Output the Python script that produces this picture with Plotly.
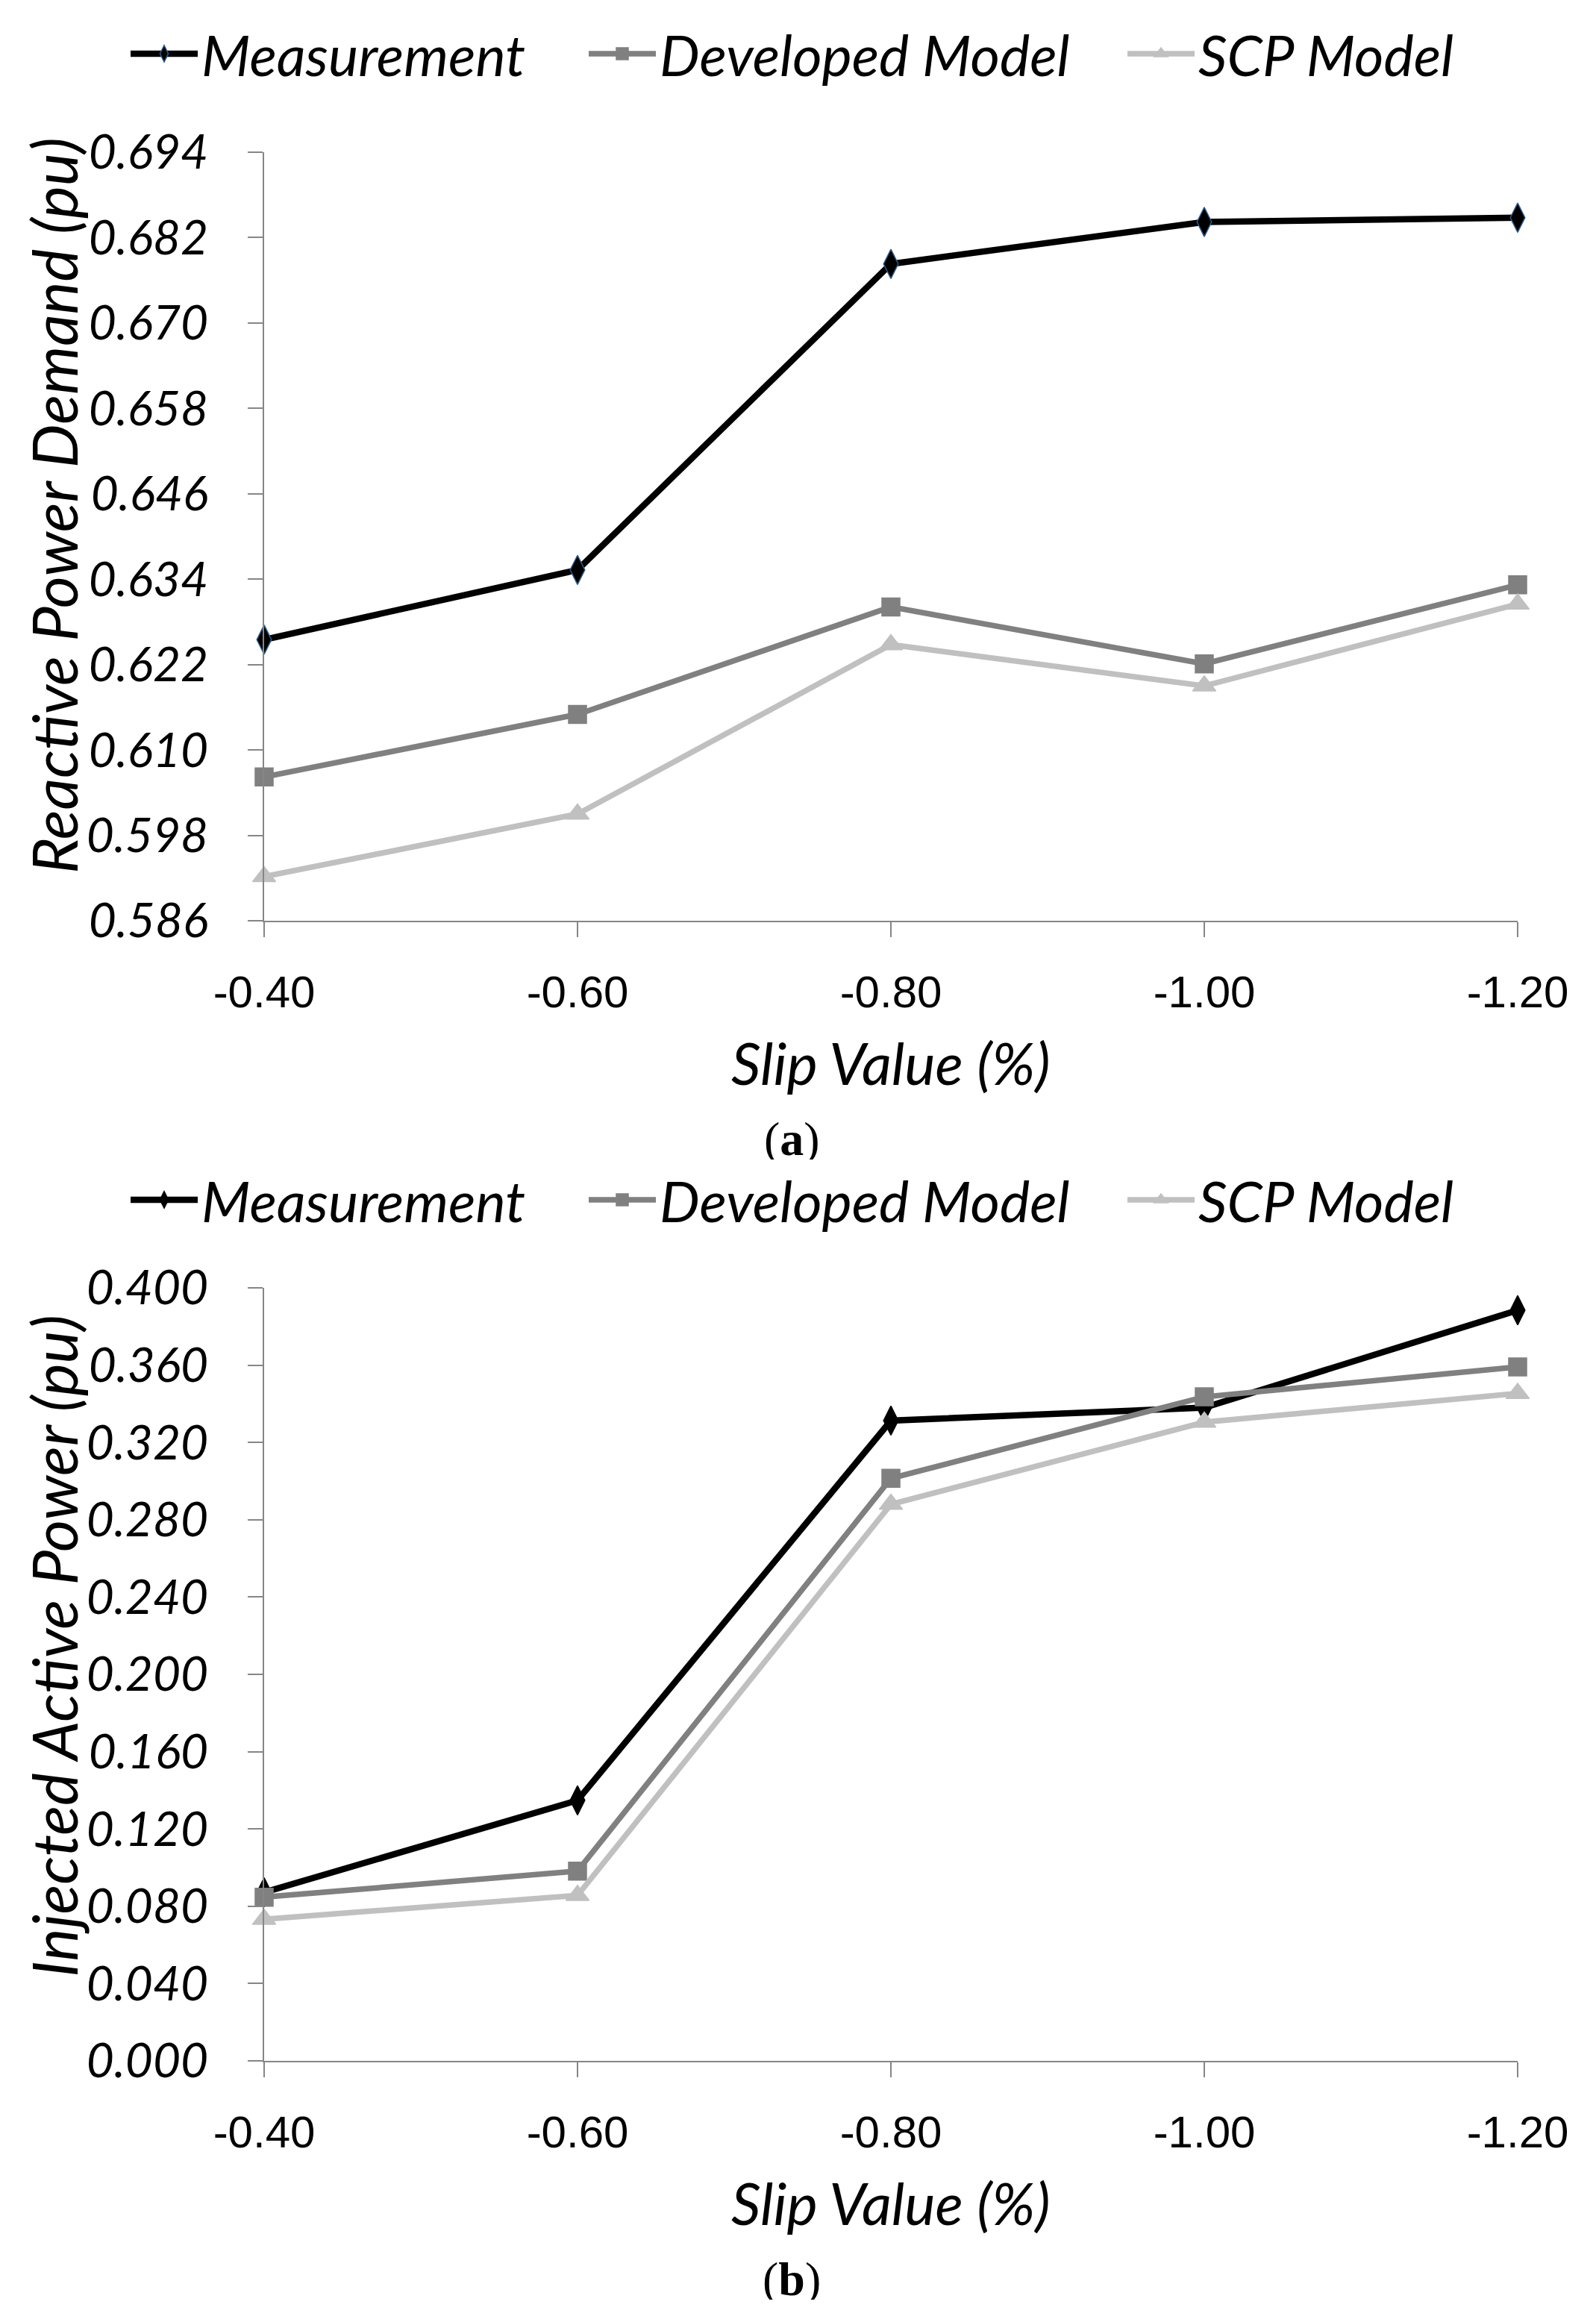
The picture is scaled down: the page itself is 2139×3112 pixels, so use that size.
import plotly.graph_objects as go

W, H = 2139, 3112

slip = ["-0.40", "-0.60", "-0.80", "-1.00", "-1.20"]

# (a) Reactive power demand (pu)
q_meas = [0.6255, 0.6353, 0.6783, 0.6842, 0.6848]
q_dev = [0.6062, 0.6150, 0.6301, 0.6221, 0.6332]
q_scp = [0.5922, 0.6010, 0.6248, 0.6190, 0.6305]

# (b) Injected active power (pu)
p_meas = [0.0872, 0.1348, 0.3313, 0.3380, 0.3884]
p_dev = [0.0847, 0.0982, 0.3014, 0.3436, 0.3591]
p_scp = [0.0733, 0.0856, 0.2880, 0.3305, 0.3454]

series_names = ["Measurement", "Developed Model", "SCP Model"]

FONT = "Lato"
AXC = "#868686"


def px(v):
    return v / W


def py(v):
    return 1 - v / H


fig = go.Figure()

styles = [
    dict(color="#000000", width=8.5, symbol="diamond-tall", size=28, mline="#2F5A8A"),
    dict(color="#808080", width=7.5, symbol="square", size=24, mline="#808080"),
    dict(color="#C0C0C0", width=7.5, symbol="triangle-up", size=27, mline="#C0C0C0"),
]

top_data = [q_meas, q_dev, q_scp]
bot_data = [p_meas, p_dev, p_scp]

for i, (name, ys) in enumerate(zip(series_names, top_data)):
    s = styles[i]
    fig.add_trace(go.Scatter(
        x=slip, y=ys, name=name, mode="lines+markers",
        line=dict(color=s["color"], width=s["width"]),
        marker=dict(symbol=s["symbol"], size=s["size"], color=s["color"],
                    line=dict(color=s["mline"], width=1.5)),
        cliponaxis=False, xaxis="x", yaxis="y",
        legend="legend" if i == 0 else f"legend{i+1}",
    ))

for i, (name, ys) in enumerate(zip(series_names, bot_data)):
    s = styles[i]
    fig.add_trace(go.Scatter(
        x=slip, y=ys, name=name, mode="lines+markers",
        line=dict(color=s["color"], width=s["width"]),
        marker=dict(symbol=s["symbol"], size=s["size"], color=s["color"],
                    line=dict(color=s["color"], width=1.5)),
        cliponaxis=False, xaxis="x2", yaxis="y2",
        legend=f"legend{i+4}",
    ))

xdom = [px(354), px(2034)]
common_x = dict(
    type="category", range=[0, 4], domain=xdom, automargin=False,
    showline=True, linecolor=AXC, linewidth=2,
    ticks="outside", ticklen=20, tickcolor=AXC, tickwidth=2,
    showgrid=False, zeroline=False,
    tickfont=dict(family="Liberation Sans", size=60, color="#000000"),
    ticklabelstandoff=22,
)
common_y = dict(
    showline=True, linecolor=AXC, linewidth=2, automargin=False,
    ticks="outside", ticklen=20, tickcolor=AXC, tickwidth=2,
    showgrid=False, zeroline=False,
    tickfont=dict(family=FONT, size=64, color="#000000", style="italic"),
    ticklabelstandoff=40,
)

fig.update_layout(
    width=W, height=H,
    margin=dict(l=0, r=0, t=0, b=0, autoexpand=False),
    paper_bgcolor="white", plot_bgcolor="white",
    showlegend=True,
    xaxis=dict(common_x, anchor="y"),
    yaxis=dict(common_y, domain=[py(1234), py(204)], range=[0.586, 0.694],
               tick0=0.586, dtick=0.012, tickformat=".3f", anchor="x"),
    xaxis2=dict(common_x, anchor="y2"),
    yaxis2=dict(common_y, domain=[py(2762), py(1726)], range=[0, 0.4],
                tick0=0, dtick=0.04, tickformat=".3f", anchor="x2"),
)

leg_font = dict(family=FONT, size=76, color="#000000", style="italic")
text_starts = [280, 894, 1616]
legend_keys = ["legend", "legend2", "legend3", "legend4", "legend5", "legend6"]
leg_rows = [72, 1608]
for r, yc in enumerate(leg_rows):
    for j, ts in enumerate(text_starts):
        key = legend_keys[r * 3 + j]
        fig.update_layout({key: dict(
            x=px(ts - 110), xanchor="left", y=py(yc), yanchor="middle",
            xref="container", yref="container",
            font=leg_font, bgcolor="rgba(0,0,0,0)", itemwidth=90,
            orientation="h",
        )})

title_font = dict(family=FONT, size=83, color="#000000", style="italic")
xt_font = dict(family=FONT, size=78, color="#000000", style="italic")
lab_font = dict(family="Liberation Serif", size=64, color="#000000")
ann = [
    dict(text="Reactive Power Demand (pu)", x=px(72), y=py(678), textangle=-90, font=title_font),
    dict(text="Injected Active Power (pu)", x=px(72), y=py(2206), textangle=-90, font=title_font),
    dict(text="Slip Value (%)", x=px(1194), y=py(1424), font=xt_font),
    dict(text="Slip Value (%)", x=px(1194), y=py(2952), font=xt_font),
    dict(text="(<b>a</b>)", x=px(1061), y=py(1526), font=lab_font, height=56),
    dict(text="(<b>b</b>)", x=px(1061), y=py(3054), font=lab_font, height=56),
]
for a in ann:
    a.update(xref="paper", yref="paper", showarrow=False, xanchor="center", yanchor="middle")
fig.update_layout(annotations=ann)

fig.write_html("out.html", config={"displayModeBar": False},
               post_script="document.body.style.margin='0px';")
